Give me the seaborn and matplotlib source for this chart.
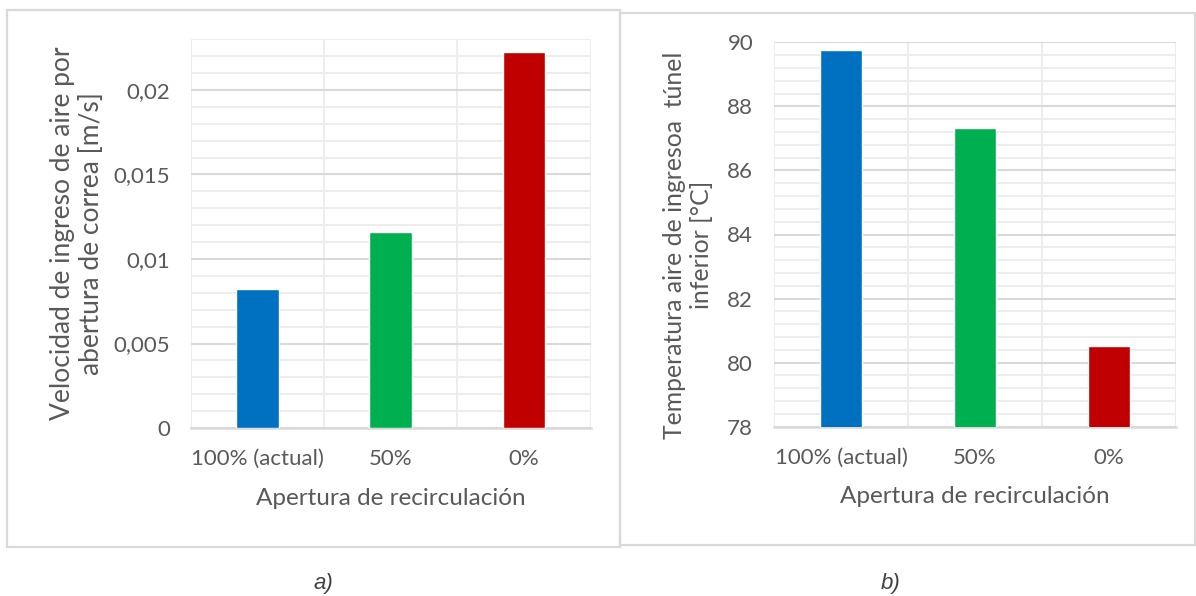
import matplotlib
matplotlib.use("Agg")
import matplotlib.pyplot as plt
from matplotlib.patches import Rectangle
from matplotlib.ticker import FixedLocator, MultipleLocator
import seaborn as sns

# ---- data ----
categories = ["100% (actual)", "50%", "0%"]
bar_colors = ["#0070C0", "#00B050", "#C00000"]

velocidad = [0.0082, 0.01157, 0.02225]
vel_ticks = [0, 0.005, 0.01, 0.015, 0.02]
vel_tick_labels = ["0", "0,005", "0,01", "0,015", "0,02"]

temperatura = [89.76, 87.32, 80.52]
temp_ticks = [78, 80, 82, 84, 86, 88, 90]
temp_tick_labels = ["78", "80", "82", "84", "86", "88", "90"]

xlabel = "Apertura de recirculación"
ylabel_a = "Velocidad de ingreso de aire por\nabertura de correa [m/s]"
ylabel_b = "Temperatura aire de ingresoa  túnel\ninferior [°C]"

sns.set_theme(style="white")
plt.rcParams["font.family"] = ["Lato", "DejaVu Sans"]

TEXT = "#595959"
MAJOR = "#D9D9D9"
MINOR = "#EDEDED"

W, H = 1196, 596
fig = plt.figure(figsize=(W / 100, H / 100), dpi=100)


def px_axes(x0, y0, x1, y1):
    """Axes from pixel box (top-left origin)."""
    return fig.add_axes([x0 / W, 1 - y1 / H, (x1 - x0) / W, (y1 - y0) / H])


def frame(x0, y0, x1, y1):
    fig.patches.append(Rectangle((x0 / W, 1 - y1 / H), (x1 - x0) / W, (y1 - y0) / H,
                                 transform=fig.transFigure, fill=False,
                                 edgecolor=MAJOR, linewidth=1.6, zorder=0))


frame(7, 10, 620, 547)
frame(620, 13, 1195, 545)


def style(ax, values, ticks, tick_labels, ylim, minor_step, ylabel, ylab_size,
          ylab_x, ylab_y):
    sns.barplot(x=categories, y=values, hue=categories, palette=bar_colors,
                legend=False, width=0.32, saturation=1, ax=ax, zorder=3)
    ax.set_xlim(-0.5, 2.5)
    ax.set_ylim(*ylim)
    ax.yaxis.set_major_locator(FixedLocator(ticks))
    ax.set_yticklabels(tick_labels)
    ax.yaxis.set_minor_locator(MultipleLocator(minor_step))
    ax.xaxis.set_minor_locator(FixedLocator([-0.5, 0, 0.5, 1, 1.5, 2, 2.5]))
    ax.grid(which="minor", axis="both", color=MINOR, linewidth=1.5, zorder=0)
    ax.grid(which="major", axis="y", color=MAJOR, linewidth=1.5, zorder=1)
    ax.set_axisbelow(True)
    for side in ["left", "right", "top"]:
        ax.spines[side].set_visible(False)
    ax.spines["bottom"].set_color(MAJOR)
    ax.spines["bottom"].set_linewidth(1.8)
    ax.tick_params(axis="both", which="both", length=0, labelsize=16,
                   labelcolor=TEXT)
    ax.tick_params(axis="x", pad=15)
    ax.tick_params(axis="y", pad=15)
    ax.set_xlabel(xlabel, fontsize=17.5, color=TEXT, va="top")
    ax.xaxis.set_label_coords(0.5, -0.155)
    ax.set_ylabel(ylabel, fontsize=ylab_size, color=TEXT, va="center",
                  ha="center", linespacing=1.2)
    ax.yaxis.set_label_coords(ylab_x, ylab_y)


ax_a = px_axes(191, 39.3, 590.5, 428)
style(ax_a, velocidad, vel_ticks, vel_tick_labels, (0, 0.023), 0.001,
      ylabel_a, 19, -0.285, 0.5)

ax_b = px_axes(774, 42.3, 1176, 426.7)
style(ax_b, temperatura, temp_ticks, temp_tick_labels, (78, 90), 0.4,
      ylabel_b, 17.8, -0.214, 0.473)

fig.text(323 / W, 1 - 583 / H, "a)", fontsize=16, style="italic",
         family=["Liberation Sans"], color="#404040", ha="center", va="center")
fig.text(891 / W, 1 - 583 / H, "b)", fontsize=16, style="italic",
         family=["Liberation Sans"], color="#404040", ha="center", va="center")

fig.savefig("out.png", dpi=100)
